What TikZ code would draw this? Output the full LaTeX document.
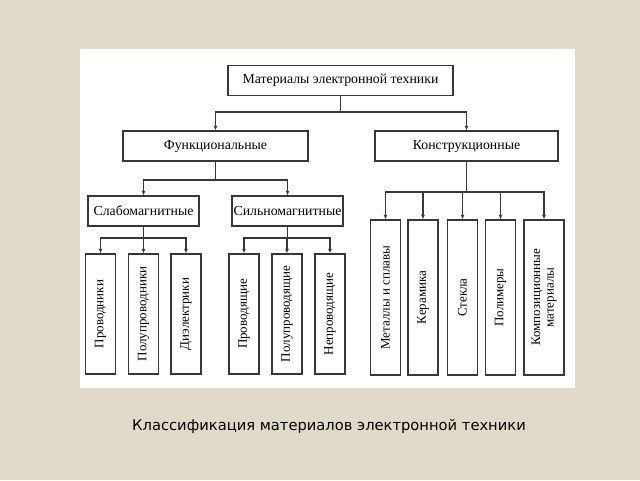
\documentclass[tikz,border=0pt]{standalone}
\usepackage{fontspec}
\setmainfont{Liberation Serif}
\newfontfamily\capfont{DejaVu Sans}
\usetikzlibrary{arrows.meta}

\definecolor{paper}{RGB}{226,218,200}
\definecolor{ink}{RGB}{55,55,55}

\tikzstyle{box}=[draw=ink,line width=1.4pt,fill=white,inner sep=0pt]
\tikzstyle{hbox}=[box,minimum height=30pt,font=\fontsize{13.8}{15}\selectfont]
\tikzstyle{vbox}=[box,rotate=90,minimum height=30pt,align=center,font=\fontsize{13}{13.5}\selectfont]
\tikzstyle{edge}=[draw=ink,line width=1.3pt,-]
\tikzstyle{tree edge}=[draw=ink,line width=1.3pt,-{Latex[length=4.5pt,width=4pt]}]

\begin{document}
\begin{tikzpicture}[x=1pt,y=-1pt]
	% background and white panel
	\fill[paper] (0,0) rectangle (640,480);
	\fill[white] (80,49) rectangle (575,388);
	\useasboundingbox (0,0) rectangle (640,480);

	\node[hbox,minimum width=225pt] (mat) at (340.5,80.5) {Материалы электронной техники};
		\node[hbox,minimum width=185pt] (fun) at (215.5,146) {Функциональные};
		\node[hbox,minimum width=183pt] (kon) at (466.5,146) {Конструкционные};
		\node[hbox,minimum width=111pt] (slab) at (143.5,211) {Слабомагнитные};
		\node[hbox,minimum width=111pt] (siln) at (287.5,211) {Сильномагнитные};
		% weak magnetic
		\node[vbox,minimum width=120pt] (prov) at (100.5,314) {Проводники};
		\node[vbox,minimum width=120pt] (polu) at (143.5,314) {Полупроводники};
		\node[vbox,minimum width=120pt] (diel) at (186,314) {Диэлектрики};
		% strong magnetic
		\node[vbox,minimum width=120pt] (provd) at (244,314) {Проводящие};
		\node[vbox,minimum width=120pt] (polud) at (287,314) {Полупроводящие};
		\node[vbox,minimum width=120pt] (neprov) at (330,314) {Непроводящие};
		% structural
		\node[vbox,minimum width=155pt] (met) at (385.5,297.5) {Металлы и сплавы};
		\node[vbox,minimum width=155pt] (ker) at (423,297.5) {Керамика};
		\node[vbox,minimum width=155pt] (stek) at (462.5,297.5) {Стекла};
		\node[vbox,minimum width=155pt] (pol) at (500.5,297.5) {Полимеры};
		\node[vbox,minimum width=155pt,minimum height=40pt] (komp) at (544,297.5) {Композиционные\\материалы};

		\node[font=\capfont\fontsize{14.7}{16}\selectfont,text=black] (cap) at (329,426) {Классификация материалов электронной техники};

		% branch points
		\coordinate (jmat) at (340.5,112);
		\coordinate (jfun) at (215.5,180);
		\coordinate (jslab) at (143.5,238);
		\coordinate (jsiln) at (287.5,238);
		\coordinate (jkon) at (466.5,192);

		% Connect boxes with edges
		\path[edge] (mat) -- (jmat);
		\path[edge] (fun) -- (jfun);
		\path[edge] (slab) -- (jslab);
		\path[edge] (siln) -- (jsiln);
		\path[edge] (kon) -- (jkon);
		\foreach \source/ \dest in {jmat/fun, jmat/kon, jfun/slab, jfun/siln, jslab/prov, jslab/polu, jslab/diel, jsiln/provd, jsiln/polud, jsiln/neprov, jkon/met, jkon/ker, jkon/stek, jkon/pol, jkon/komp}
		 \path[tree edge] (\source) -| (\dest);
\end{tikzpicture}
\end{document}
